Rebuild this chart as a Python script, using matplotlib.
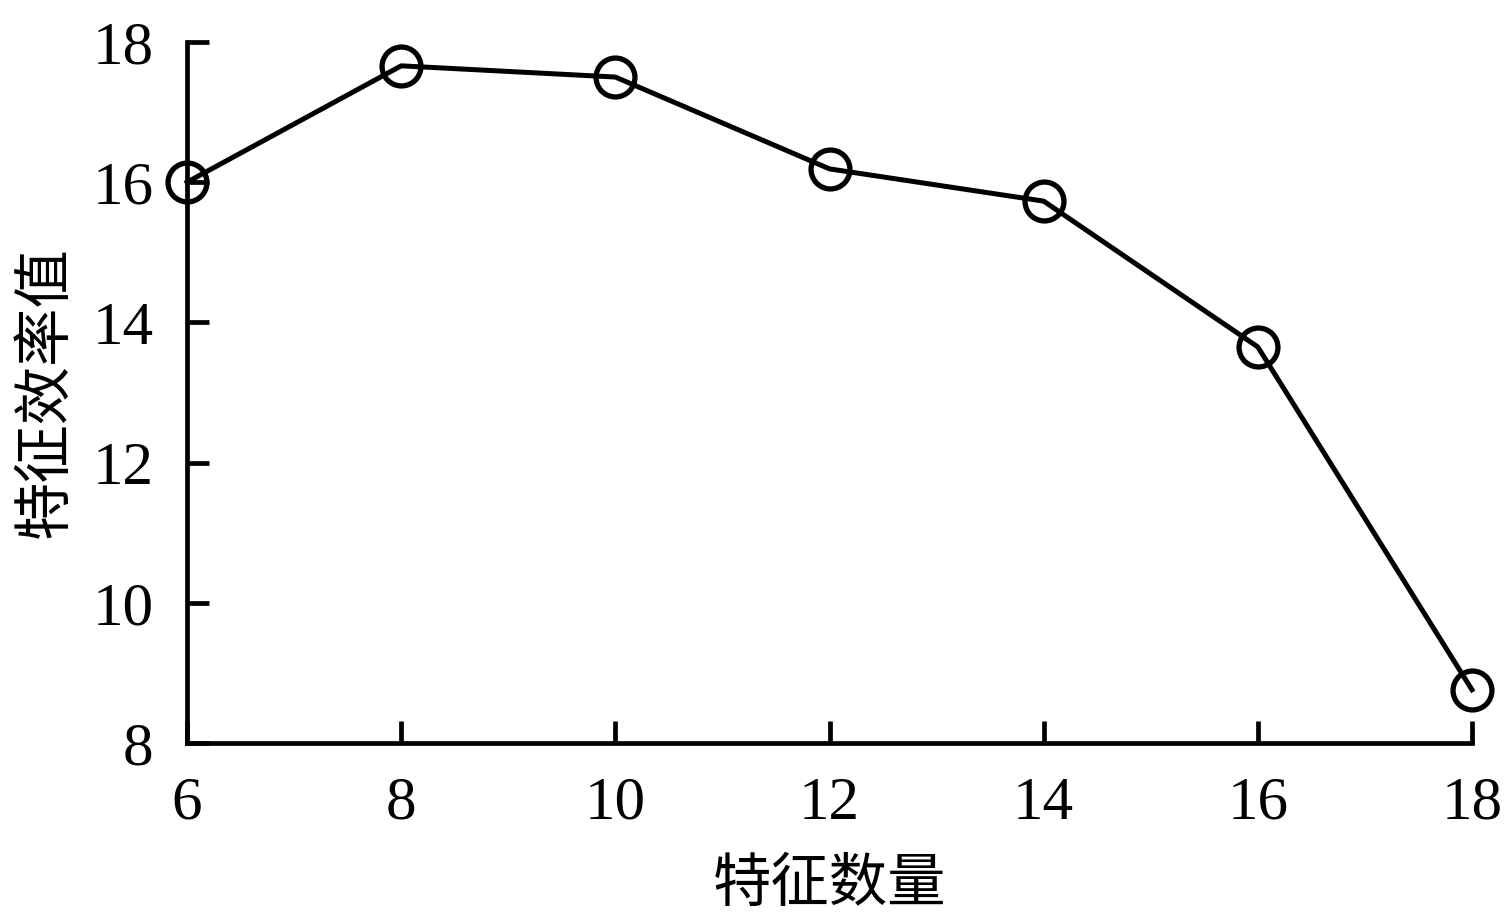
import matplotlib
matplotlib.use('Agg')
import matplotlib.pyplot as plt

# feature count vs feature efficiency value
feature_count = [6, 8, 10, 12, 14, 16, 18]
efficiency = [16.0, 17.66, 17.5, 16.19, 15.73, 13.65, 8.76]
x_ticks = [6, 8, 10, 12, 14, 16, 18]
y_ticks = [8, 10, 12, 14, 16, 18]

plt.rcParams['font.family'] = ['Liberation Serif', 'Noto Sans CJK SC', 'DejaVu Sans']

fig = plt.figure(figsize=(15.06, 9.23), dpi=100)
ax = fig.add_axes([0.1242, 0.195, 0.8532, 0.7595])

ax.plot(feature_count, efficiency, color='black', linewidth=3.6,
        marker='o', markersize=28, markerfacecolor='none',
        markeredgewidth=3.8, markeredgecolor='black', clip_on=False)

ax.set_xlim(6, 18)
ax.set_ylim(8, 18)
ax.set_xticks(x_ticks)
ax.set_yticks(y_ticks)

for s in ['top', 'right']:
    ax.spines[s].set_visible(False)
for s in ['left', 'bottom']:
    ax.spines[s].set_linewidth(3.4)

ax.tick_params(direction='in', length=16, width=3.4, labelsize=44, pad=24)

ax.set_xlabel('特征数量', fontsize=42, family=['Noto Sans CJK SC'], labelpad=16)
ax.set_ylabel('特征效率值', fontsize=42, family=['Noto Sans CJK SC'], labelpad=12)

fig.savefig('out.png', dpi=100)
